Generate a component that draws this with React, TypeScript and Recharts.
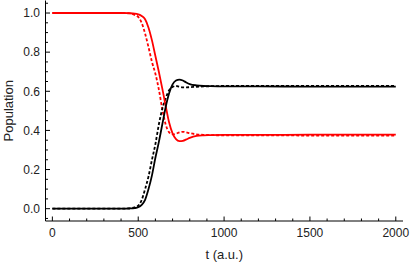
import { LineChart, Line, XAxis, YAxis } from 'recharts'

// time grid (a.u.)
const times = [0, 100, 200, 300, 400, 450, 480, 500, 520, 540, 560, 580, 600, 620, 640, 660, 680, 700, 720, 740, 760, 780, 800, 840, 880, 920, 1000, 1200, 1500, 2000]

const redSolid = [1, 1, 1, 1, 1, 0.999, 0.997, 0.993, 0.985, 0.968, 0.925, 0.86, 0.78, 0.7, 0.615, 0.525, 0.44, 0.385, 0.355, 0.345, 0.347, 0.354, 0.362, 0.372, 0.375, 0.376, 0.377, 0.377, 0.378, 0.378]
const redDashed = [1, 1, 1, 1, 1, 0.998, 0.99, 0.98, 0.95, 0.895, 0.825, 0.75, 0.69, 0.61, 0.51, 0.43, 0.39, 0.38, 0.383, 0.39, 0.393, 0.39, 0.386, 0.38, 0.377, 0.376, 0.375, 0.375, 0.374, 0.374]
const blackSolid = [0, 0, 0, 0, 0, 0.001, 0.003, 0.007, 0.019, 0.045, 0.1, 0.17, 0.26, 0.34, 0.43, 0.52, 0.59, 0.635, 0.655, 0.66, 0.655, 0.645, 0.637, 0.63, 0.627, 0.626, 0.625, 0.625, 0.624, 0.624]
const blackDashed = [0, 0, 0, 0, 0, 0.002, 0.007, 0.015, 0.044, 0.1, 0.165, 0.25, 0.33, 0.43, 0.51, 0.565, 0.605, 0.622, 0.627, 0.623, 0.62, 0.62, 0.621, 0.623, 0.625, 0.626, 0.627, 0.627, 0.628, 0.628]

const xTicks = [0, 100, 200, 300, 400, 500, 600, 700, 800, 900, 1000, 1100, 1200, 1300, 1400, 1500, 1600, 1700, 1800, 1900, 2000]
const yTicks = [-0.05, 0, 0.05, 0.1, 0.15, 0.2, 0.25, 0.3, 0.35, 0.4, 0.45, 0.5, 0.55, 0.6, 0.65, 0.7, 0.75, 0.8, 0.85, 0.9, 0.95, 1, 1.05]

const data = times.map((t, i) => ({
  t,
  redSolid: redSolid[i],
  redDashed: redDashed[i],
  blackSolid: blackSolid[i],
  blackDashed: blackDashed[i],
}))

const FONT = 'Liberation Sans, Arial, sans-serif'
const MAJOR = 4.5
const MINOR = 2.5

const isMajorX = (v: number) => v % 500 === 0
const isMajorY = (v: number) => Math.abs(v * 5 - Math.round(v * 5)) < 1e-6

const BottomTick = (props: any) => {
  const { x, y, payload } = props
  const major = isMajorX(payload.value)
  return (
    <g>
      <line x1={x} x2={x} y1={y} y2={y - (major ? MAJOR : MINOR)} stroke="#000" strokeWidth={1} />
      {major && (
        <text x={x} y={y + 7} dy="0.71em" textAnchor="middle" fontSize={12} fontFamily={FONT} fill="#222">
          {payload.value}
        </text>
      )}
    </g>
  )
}

const TopTick = (props: any) => {
  const { x, y, payload } = props
  const major = isMajorX(payload.value)
  return <line x1={x} x2={x} y1={y} y2={y + (major ? MAJOR : MINOR)} stroke="#000" strokeWidth={1} />
}

const LeftTick = (props: any) => {
  const { x, y, payload } = props
  const major = isMajorY(payload.value)
  return (
    <g>
      <line x1={x} x2={x + (major ? MAJOR : MINOR)} y1={y} y2={y} stroke="#000" strokeWidth={1} />
      {major && (
        <text x={x - 5.5} y={y} dy="0.355em" textAnchor="end" fontSize={12} fontFamily={FONT} fill="#222">
          {payload.value.toFixed(1)}
        </text>
      )}
    </g>
  )
}

const RightTick = (props: any) => {
  const { x, y, payload } = props
  const major = isMajorY(payload.value)
  return <line x1={x} x2={x - (major ? MAJOR : MINOR)} y1={y} y2={y} stroke="#000" strokeWidth={1} />
}

const YLabel = (props: any) => {
  const { viewBox } = props
  const cx = 8
  const cy = viewBox.y + viewBox.height / 2
  return (
    <text x={cx} y={cy} transform={`rotate(-90, ${cx}, ${cy})`} dy="0.355em" textAnchor="middle" fontSize={13} fontFamily={FONT} fill="#222">
      Population
    </text>
  )
}

const XLabel = (props: any) => {
  const { viewBox } = props
  const cx = viewBox.x + viewBox.width / 2
  return (
    <text x={cx} y={259} textAnchor="middle" fontSize={13} fontFamily={FONT} fill="#222">
      t (a.u.)
    </text>
  )
}

export default function App() {
  return (
    <div style={{ position: 'absolute', left: 0, top: 0, background: '#fff' }}>
      <LineChart width={412} height={264} data={data} margin={{ top: 0.5, right: 9, left: 0, bottom: 0 }}>
        <XAxis
          xAxisId="bottom"
          dataKey="t"
          type="number"
          domain={[-40, 2042]}
          ticks={xTicks}
          interval={0}
          allowDataOverflow
          height={43}
          tickSize={0}
          tickMargin={0}
          tickLine={false}
          axisLine={{ stroke: '#000', strokeWidth: 1 }}
          tick={<BottomTick />}
          label={<XLabel />}
        />
        <XAxis
          xAxisId="top"
          orientation="top"
          dataKey="t"
          type="number"
          domain={[-40, 2042]}
          ticks={xTicks}
          interval={0}
          allowDataOverflow
          height={0}
          tickSize={0}
          tickMargin={0}
          tickLine={false}
          axisLine={{ stroke: '#000', strokeWidth: 1 }}
          tick={<TopTick />}
        />
        <YAxis
          yAxisId="left"
          type="number"
          domain={[-0.063, 1.064]}
          ticks={yTicks}
          interval={0}
          allowDataOverflow
          width={45.5}
          tickSize={0}
          tickMargin={0}
          tickLine={false}
          axisLine={{ stroke: '#000', strokeWidth: 1 }}
          tick={<LeftTick />}
          label={<YLabel />}
        />
        <YAxis
          yAxisId="right"
          orientation="right"
          type="number"
          domain={[-0.063, 1.064]}
          ticks={yTicks}
          interval={0}
          allowDataOverflow
          width={0}
          tickSize={0}
          tickMargin={0}
          tickLine={false}
          axisLine={{ stroke: '#000', strokeWidth: 1 }}
          tick={<RightTick />}
        />
        <Line xAxisId="bottom" yAxisId="left" type="monotone" dataKey="redDashed" stroke="#ff0000" strokeWidth={1.8} strokeDasharray="3 2" dot={false} isAnimationActive={false} />
        <Line xAxisId="bottom" yAxisId="left" type="monotone" dataKey="blackDashed" stroke="#000" strokeWidth={1.8} strokeDasharray="3 2" dot={false} isAnimationActive={false} />
        <Line xAxisId="bottom" yAxisId="left" type="monotone" dataKey="redSolid" stroke="#ff0000" strokeWidth={1.8} dot={false} isAnimationActive={false} />
        <Line xAxisId="bottom" yAxisId="left" type="monotone" dataKey="blackSolid" stroke="#000" strokeWidth={1.8} dot={false} isAnimationActive={false} />
      </LineChart>
    </div>
  )
}
